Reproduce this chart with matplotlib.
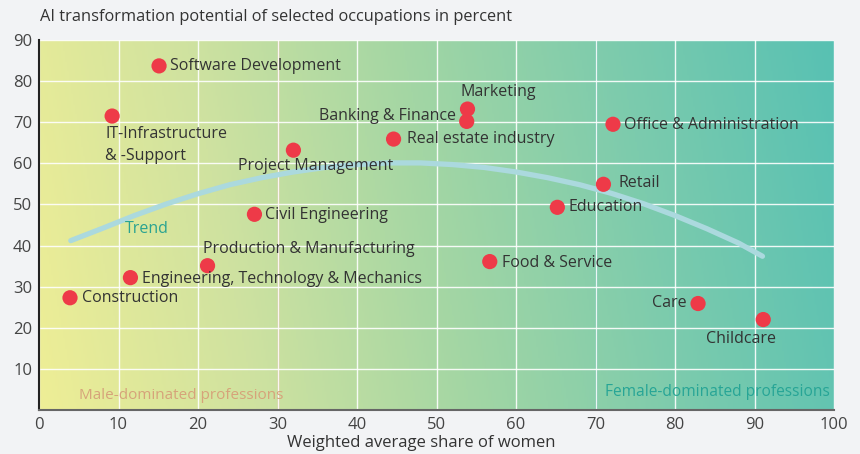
import matplotlib
matplotlib.use("Agg")
import matplotlib.pyplot as plt
import numpy as np
from matplotlib.colors import LinearSegmentedColormap

plt.rcParams['font.family'] = ['Open Sans', 'DejaVu Sans']

# ---- data ----
occupations = ["Construction", "Engineering, Technology & Mechanics",
               "Production & Manufacturing", "Civil Engineering",
               "Project Management", "IT-Infrastructure\n& -Support",
               "Software Development", "Real estate industry",
               "Banking & Finance", "Marketing", "Food & Service",
               "Education", "Retail", "Office & Administration",
               "Care", "Childcare"]
share_women = [3.9, 11.5, 21.2, 27.1, 32.0, 9.2, 15.1, 44.6,
               53.8, 53.9, 56.7, 65.2, 71.0, 72.2, 82.9, 91.1]
ai_potential = [27.3, 32.2, 35.1, 47.6, 63.2, 71.5, 83.7, 65.9,
                70.2, 73.2, 36.1, 49.3, 54.9, 69.5, 25.9, 22.0]

trend_x = [4, 8, 12, 16, 20, 24, 28, 32, 36, 40, 44, 48,
           52, 56, 60, 64, 68, 72, 76, 80, 84, 88, 91]
trend_y = [41.2, 44.2, 47.3, 50.1, 52.6, 54.8, 56.5, 57.9, 59.0, 59.7, 60.1, 60.1,
           59.7, 59.0, 57.9, 56.5, 54.8, 52.7, 50.2, 47.3, 44.1, 40.6, 37.4]

x_ticks = [0, 10, 20, 30, 40, 50, 60, 70, 80, 90, 100]
y_ticks = [10, 20, 30, 40, 50, 60, 70, 80, 90]

# label placement (offset pixels, ha, va)
label_style = [
    (12, 0, 'left', 'center'),
    (12, -1, 'left', 'center'),
    (-5, 17, 'left', 'center'),
    (11, -1, 'left', 'center'),
    (22, -16, 'center', 'center'),
    (-7, -10, 'left', 'top'),
    (11, 0, 'left', 'center'),
    (13, 0, 'left', 'center'),
    (-11, 5, 'right', 'center'),
    (-7, 17, 'left', 'center'),
    (12, -1, 'left', 'center'),
    (11, 0, 'left', 'center'),
    (15, 1, 'left', 'center'),
    (11, -1, 'left', 'center'),
    (-11, 1, 'right', 'center'),
    (-22, -19, 'center', 'center'),
]

fig = plt.figure(figsize=(8.6, 4.54), dpi=100)
fig.patch.set_facecolor('#f2f3f5')
ax = fig.add_axes([39/860, 44/454, 795/860, 370/454])

# gradient background
cmap = LinearSegmentedColormap.from_list('bg', ['#eeee96', '#cfe2a0', '#a3d6a4', '#7ccbad', '#58c1b3'])
gx = np.linspace(0, 1, 400)
gy = np.linspace(0, 1, 200)
GX, GY = np.meshgrid(gx, gy)
G = np.clip(0.92 * GX + 0.08 * GY, 0, 1)
ax.imshow(G, extent=[0, 100, 0, 90], origin='lower', cmap=cmap, aspect='auto',
          vmin=0, vmax=1, zorder=0)

ax.set_xlim(0, 100)
ax.set_ylim(0, 90)
ax.set_xticks(x_ticks)
ax.set_yticks(y_ticks)
ax.grid(True, color='white', linewidth=1.0, alpha=0.9, zorder=1)
ax.set_axisbelow(False)
ax.tick_params(length=0, labelsize=12, labelcolor='#444444', pad=5)

for s in ['top', 'right']:
    ax.spines[s].set_visible(False)
ax.spines['left'].set_color('#222222')
ax.spines['left'].set_linewidth(1.5)
ax.spines['bottom'].set_color('#666666')
ax.spines['bottom'].set_linewidth(1.5)
for s in ['left', 'bottom']:
    ax.spines[s].set_zorder(5)

ax.axvline(30, color='#e3a08c', linewidth=1.0, zorder=2)
ax.axvline(70, color='#3aa9a3', linewidth=1.0, zorder=2)

ax.text(5, 3.5, 'Male-dominated professions', color='#d6a37a', fontsize=11,
        ha='left', va='center', zorder=3)
ax.text(99.5, 4.5, 'Female-dominated professions', color='#27a596', fontsize=11.2,
        ha='right', va='center', zorder=3)

ax.plot(trend_x, trend_y, color='#abd9de', linewidth=3.8, solid_capstyle='round', zorder=3)
ax.text(10.8, 44.1, 'Trend', color='#2aa391', fontsize=11.5, ha='left', va='center', zorder=4)

ax.scatter(share_women, ai_potential, s=120, color='#ee3a48', edgecolors='none', zorder=6)

for name, xv, yv, (dx, dy, ha, va) in zip(occupations, share_women, ai_potential, label_style):
    ax.annotate(name, (xv, yv), xytext=(dx, dy), textcoords='offset pixels',
                ha=ha, va=va, fontsize=11.5, color='#333333', zorder=7,
                linespacing=1.5)

fig.text(40/860, 1 - 17/454, 'AI transformation potential of selected occupations in percent',
         fontsize=11.8, color='#333333', ha='left', va='center')
fig.text(421/860, 1 - 443/454, 'Weighted average share of women', fontsize=12,
         color='#333333', ha='center', va='center')

fig.savefig('out.png', dpi=100, facecolor=fig.get_facecolor())
